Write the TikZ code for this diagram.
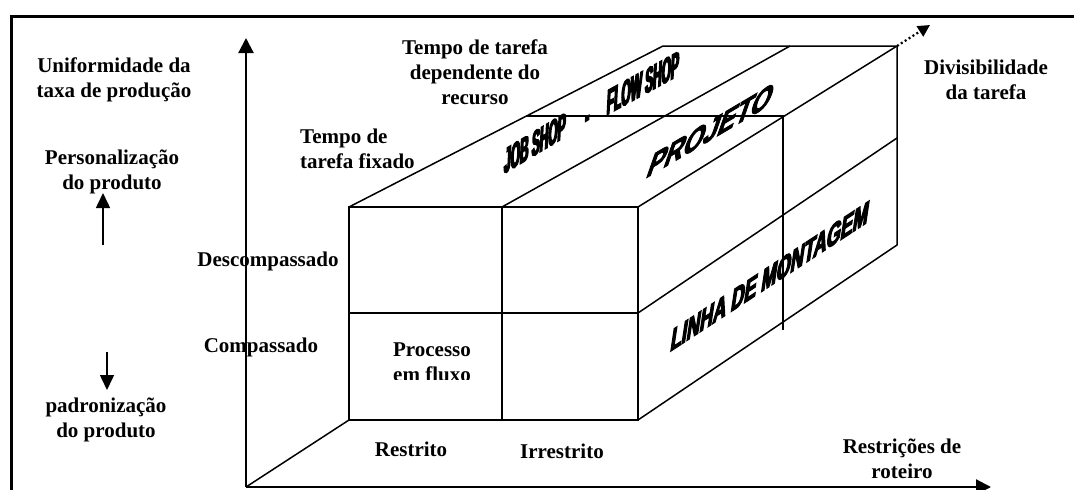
\documentclass[tikz,border=0pt]{standalone}
\usepackage{fontspec}
\setmainfont{Liberation Serif}
\newfontfamily\waA{Liberation Sans}[FakeStretch=0.33, BoldFeatures={FakeBold=4}]
\newfontfamily\waB{Liberation Sans}[FakeStretch=0.72, BoldFeatures={FakeBold=3}]
\newfontfamily\waC{Liberation Sans}[FakeStretch=0.55, BoldFeatures={FakeBold=4}]
\usetikzlibrary{arrows.meta}
\begin{document}
\begin{tikzpicture}[x=1pt,y=-1pt,
  lbl/.style={font=\fontsize{21}{25}\selectfont\bfseries, align=center, inner sep=0pt},
  boxline/.style={line width=1.5pt, line join=miter},
  axisarrow/.style={line width=2.2pt, -{Triangle[length=15pt,width=15pt]}},
  smallarrow/.style={line width=1.5pt, -{Triangle[length=15pt,width=14pt]}},
  dotarrow/.style={line width=2.2pt, dash pattern={on 2pt off 2.6pt}, -{Triangle[length=12pt,width=12pt]}},
  waa/.style={font=\waA\bfseries\fontsize{36}{36}\selectfont, inner sep=0pt},
  wab/.style={font=\waB\bfseries\fontsize{36}{36}\selectfont, inner sep=0pt},
  wac/.style={font=\waC\bfseries\fontsize{33}{33}\selectfont, inner sep=0pt}
]
\useasboundingbox (0,0) rectangle (1074,490);
% frame
\draw[line width=3pt, line join=miter] (11,495) -- (11,16.5) -- (1080,16.5);

% coordinates
\coordinate (O) at (246,487);
\coordinate (ytip) at (246,38);
\coordinate (xtip) at (991,487);
\coordinate (A) at (349,207); \coordinate (B) at (502,207); \coordinate (C) at (638,207);
\coordinate (D) at (349,313); \coordinate (E) at (502,313); \coordinate (F) at (638,313);
\coordinate (G) at (349,420); \coordinate (H) at (502,420); \coordinate (I) at (638,420);
\coordinate (P) at (663,46); \coordinate (Q) at (790,46); \coordinate (R) at (897,46);
\coordinate (Rm) at (897,138); \coordinate (Rb) at (897,245);
\coordinate (M1) at (526,116); \coordinate (M2) at (783,116); \coordinate (M3) at (783,330);
\coordinate (dtip) at (930,25);
\coordinate (u1) at (103,245); \coordinate (u2) at (103,193);
\coordinate (d1) at (107,352); \coordinate (d2) at (107,390);

% axes
\draw[axisarrow] (O) -- (ytip);
\draw[axisarrow] (O) -- (xtip);
\draw[boxline] (O) -- (G);

% box front face
\draw[boxline] (A) rectangle (I);
\draw[boxline] (B) -- (H);
\draw[boxline] (D) -- (F);
% top face
\draw[boxline] (A) -- (P) -- (R) -- (C);
\draw[boxline] (B) -- (Q);
\draw[boxline] (M1) -- (M2) -- (M3);
% right face
\draw[boxline] (R) -- (Rb) -- (I);
\draw[boxline] (F) -- (Rm);

% small arrows
\draw[smallarrow] (u1) -- (u2);
\draw[smallarrow] (d1) -- (d2);
\draw[dotarrow] (R) -- (dtip);

% labels
\node[lbl] (unif) at (114,80) {Uniformidade da\\taxa de produção};
\node[lbl] (pers) at (112,172) {Personalização\\do produto};
\node[lbl] (padr) at (106,420) {padronização\\do produto};
\node[lbl] (desc) at (268,261) {Descompassado};
\node[lbl] (comp) at (261,347) {Compassado};
\node[lbl, align=left, anchor=west] (tfix) at (300,148.5) {Tempo de\\tarefa fixado};
\node[lbl] (tdep) at (475,72) {Tempo de tarefa\\dependente do\\recurso};
\node[lbl] (divi) at (986,80) {Divisibilidade\\da tarefa};
\begin{scope}
\clip (380,300) rectangle (490,379);
\node[lbl] (proc) at (432,362) {Processo\\em fluxo};
\end{scope}
\node[lbl] (restr) at (411,449) {Restrito};
\node[lbl] (irres) at (562,451) {Irrestrito};
\node[lbl] (rrot) at (902,459) {Restrições de\\roteiro};

% word-art labels
\node[waa, cm={1,0.6,0.05,1,(0,0)}] (job) at (535,143) {JOB SHOP};
\node[waa, cm={1,0.6,0.05,1,(0,0)}] (dash) at (587,122) {-};
\node[waa, cm={1,0.55,0.05,1,(0,0)}] (flow) at (643,83) {FLOW SHOP};
\node[wab, cm={1,0.59,0.35,1,(0,0)}] (proj) at (711,130) {PROJETO};
\node[wac, cm={1,0.655,0.15,1,(0,0)}] (linha) at (770,276) {LINHA DE MONTAGEM};
\end{tikzpicture}
\end{document}
